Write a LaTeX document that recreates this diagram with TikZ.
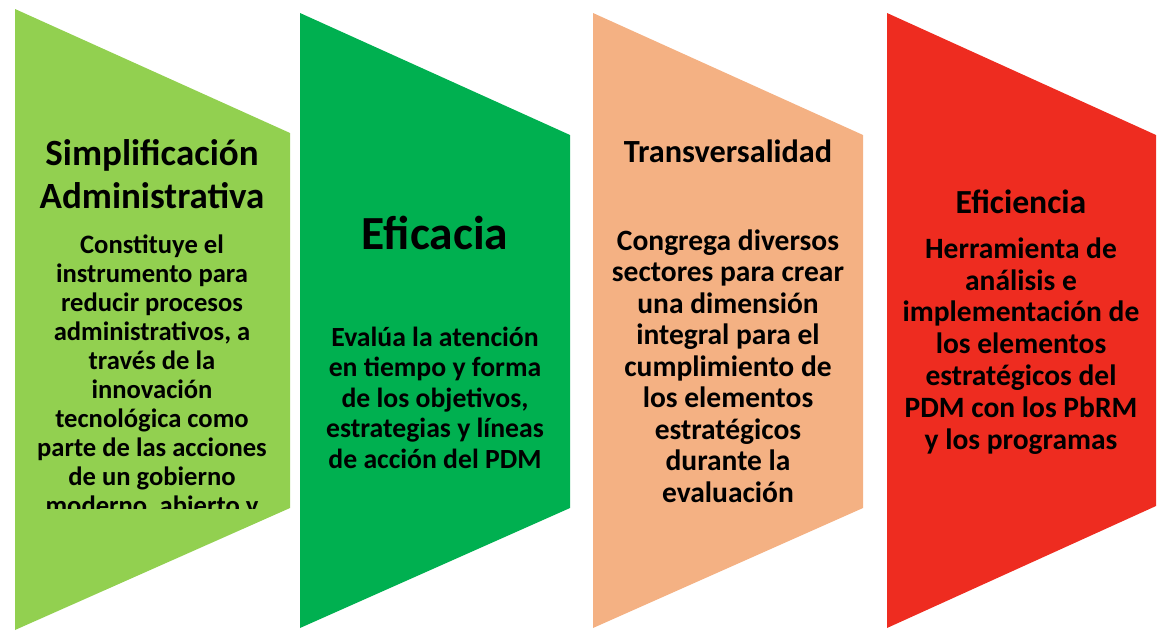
\documentclass[tikz,border=0pt]{standalone}
\usepackage{fontspec}
\setmainfont{Carlito}
\usetikzlibrary{positioning}

\definecolor{simplegreen}{HTML}{92D050}
\definecolor{efigreen}{HTML}{00B050}
\definecolor{transpeach}{HTML}{F4B183}
\definecolor{efired}{HTML}{EE2C20}

\begin{document}
\begin{tikzpicture}[x = 1pt, y = -1pt, % pixel-like units, y downwards
                % base anchor = baseline of the last line
                label/.style 2 args = {font = \bfseries\fontsize{#1}{#2}\selectfont,
                    align = center, inner sep = 0pt, anchor = base}
            ]

            \useasboundingbox (0,0) rectangle (1160,630);

            % the four panels
            \fill[simplegreen] (15,9) -- (290,133) -- (290,508) -- (15,630) -- cycle;
            \fill[efigreen] (300,13) -- (570,135) -- (570,508) -- (300,628) -- cycle;
            \fill[transpeach] (593,13) -- (863,135) -- (863,508) -- (593,628) -- cycle;
            \fill[efired] (887,13) -- (1156,135) -- (1156,506) -- (887,628) -- cycle;

            % simplificacion
            \node[label = {37}{43}] (simp) at (152,208) {Simplificación\\Administrativa};
            \begin{scope}
                \clip (15,9) rectangle (290,508);
                \node[label = {26.6}{29}] (simptext) at (152,514)
                {Constituye el\\instrumento para\\reducir procesos\\
                    administrativos, a\\través de la\\innovación\\tecnológica como\\
                    parte de las acciones\\de un gobierno\\moderno, abierto y};
            \end{scope}

            % eficacia
            \node[label = {47.5}{56}] (efic) at (435,249) {Eficacia};
            \node[label = {27.7}{30.5}] (efictext) at (435,468)
            {Evalúa la atención\\en tiempo y forma\\de los objetivos,\\
                estrategias y líneas\\de acción del PDM};

            % transversalidad
            \node[label = {32.3}{38}] (trans) at (728,162) {Transversalidad};
            \node[label = {29.5}{31.5}] (transtext) at (728,502)
            {Congrega diversos\\sectores para crear\\una dimensión\\
                integral para el\\cumplimiento de\\los elementos\\estratégicos\\
                durante la\\evaluación};

            % eficiencia
            \node[label = {33.7}{40}] (efin) at (1021,213) {Eficiencia};
            \node[label = {29.5}{31.8}] (efintext) at (1021,449)
            {Herramienta de\\análisis e\\implementación de\\
                los elementos\\estratégicos del\\PDM con los PbRM\\y los programas};
\end{tikzpicture}
\end{document}
